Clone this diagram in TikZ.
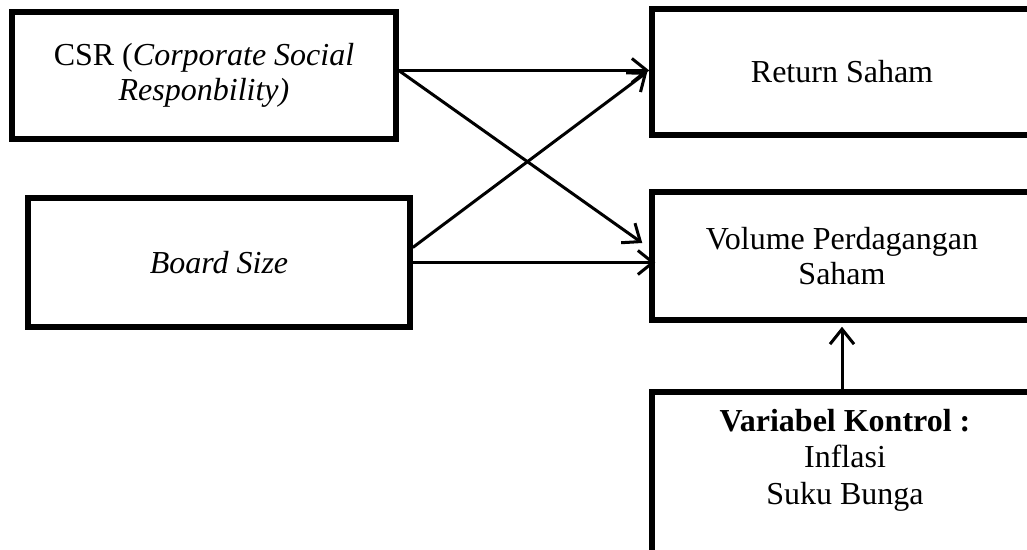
\documentclass[tikz,border=0pt]{standalone}
\usepackage{fontspec}
\setmainfont{Liberation Serif}
\usetikzlibrary{arrows.meta,calc}
\begin{document}
\begin{tikzpicture}[x=1pt,y=-1pt,
  box/.style={draw,line width=5.5pt,rectangle,inner sep=0pt,align=center,font=\fontsize{32}{35.5}\selectfont},
  txt/.style={inner sep=0pt,align=center,font=\fontsize{32}{36.5}\selectfont},
  conn/.style={line width=3pt,-{Straight Barb[length=15pt,width=24pt,line width=3pt]}}]
\useasboundingbox (0,0) rectangle (1027,549);
\clip (0,0) rectangle (1027,549);
\node[box,minimum width=384pt,minimum height=127pt] (csr) at (204,75.5) {CSR (\textit{Corporate Social}\\\textit{Responbility)}};
\node[box,minimum width=382pt,minimum height=129pt] (board) at (219,262.5) {\textit{Board Size}};
\node[box,minimum width=380pt,minimum height=126pt] (ret) at (842,72) {Return Saham};
\node[box,minimum width=380pt,minimum height=128pt] (vol) at (842,256) {Volume Perdagangan\\Saham};
\node[box,minimum width=380pt,minimum height=208pt] (kbox) at (842,496) {};
\node[txt,anchor=north] (kt) at (845,409) {\textbf{Variabel Kontrol :}\\Inflasi\\Suku Bunga};
\coordinate (c1) at ([yshift=5pt]csr.east);
\coordinate (b1) at ([yshift=15pt]board.east);
\draw[conn] (c1) -- (c1 -| ret.west);
\draw[conn] (c1) -- ([xshift=-7pt,yshift=13pt]vol.west);
\draw[conn] (b1) -- ([xshift=-2pt]ret.west);
\draw[conn] (board.east) -- ([xshift=6pt]board.east -| vol.west);
\draw[conn] (kbox.north) -- ([yshift=-4pt]vol.south);
\end{tikzpicture}
\end{document}
